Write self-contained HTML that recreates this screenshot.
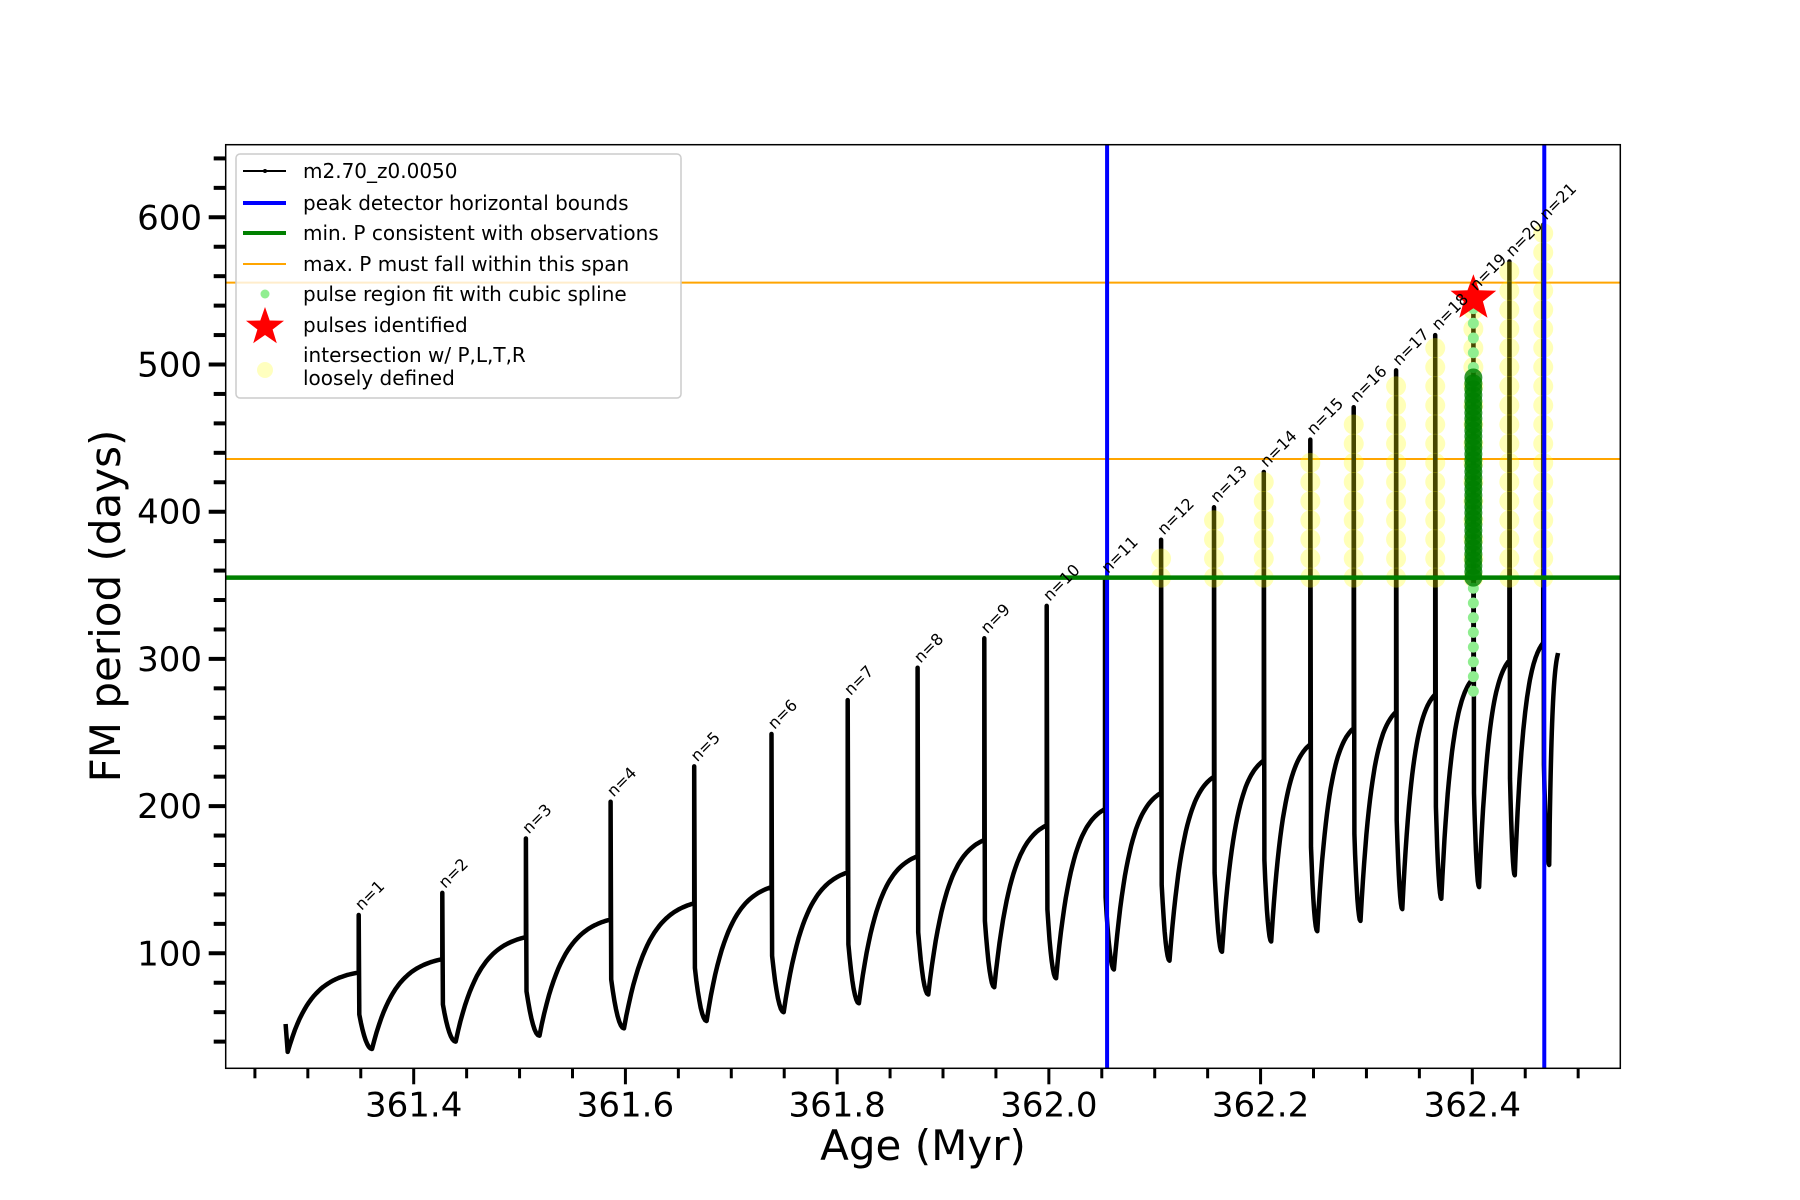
<!DOCTYPE html>
<html><head><meta charset="utf-8"><style>
html,body{margin:0;padding:0;background:#fff}
svg{display:block}
text{font-family:"DejaVu Sans","Liberation Sans",sans-serif}
</style></head><body>
<svg id="chart" width="1800" height="1200" viewBox="0 0 1800 1200" xmlns="http://www.w3.org/2000/svg">
<rect width="1800" height="1200" fill="#fff"/>
<g id="plot"></g>
<g id="axes"></g>
<text x="923" y="1160" font-size="42" text-anchor="middle">Age (Myr)</text>
<text x="0" y="0" font-size="42" text-anchor="middle" transform="translate(120,606) rotate(-90)">FM period (days)</text>
<g id="legend">
<rect x="236" y="154" width="445" height="244" rx="4" fill="#fff" fill-opacity="0.8" stroke="#ccc" stroke-width="1.5"/>
<g><line x1="243" y1="171" x2="286" y2="171" stroke="#000" stroke-width="2"/><circle cx="265" cy="171" r="2" fill="#000"/><text x="303" y="178" font-size="20">m2.70_z0.0050</text></g>
<g><line x1="243" y1="203" x2="286" y2="203" stroke="#0000ff" stroke-width="4"/><text x="303" y="210" font-size="20">peak detector horizontal bounds</text></g>
<g><line x1="243" y1="233" x2="286" y2="233" stroke="#008000" stroke-width="4"/><text x="303" y="240" font-size="20">min. P consistent with observations</text></g>
<g><line x1="243" y1="264" x2="286" y2="264" stroke="#ffa500" stroke-width="2"/><text x="303" y="271" font-size="20">max. P must fall within this span</text></g>
<g><circle cx="265" cy="294" r="4.5" fill="#90ee90"/><text x="303" y="301" font-size="20">pulse region fit with cubic spline</text></g>
<g><polygon id="legstar" fill="#ff0000"/><text x="303" y="332" font-size="20">pulses identified</text></g>
<g><circle cx="265" cy="370" r="8" fill="#ffff00" fill-opacity="0.25"/><text x="303" y="362" font-size="20">intersection w/ P,L,T,R</text><text x="303" y="385" font-size="20">loosely defined</text></g>
</g>
</svg>
<script>
const spikeAge=[361.348,361.427,361.506,361.586,361.665,361.738,361.810,361.876,361.939,361.998,362.053,362.106,362.156,362.203,362.247,362.288,362.328,362.365,362.401,362.435,362.467];
const spikePeak=[126,141,178,203,227,249,272,294,314,336,355,381,403,427,449,471,496,520,547,570,595];
const plateauVals=[87,96,111,123,134,145,155,166,177,187,198,209,220,231,242,253,264,276,287,299,311];
const troughVals=[35,40,44,49,54,60,66,72,77,83,89,95,101,108,115,122,130,137,145,153,160];
const startAge=361.279, startVal=52, firstMin=33;
const endAge=362.481, endVal=304;
const boundAges=[362.055,362.468];
const minP=[355.2];
const maxPSpan=[435.8,555.6];
const starPoint=[362.401,545];
const xTicks=[361.4,361.6,361.8,362.0,362.2,362.4];
const xTickLabels=["361.4","361.6","361.8","362.0","362.2","362.4"];
const yTicks=[100,200,300,400,500,600];
const yTickLabels=["100","200","300","400","500","600"];

const L=225.7,R=1620.3,T=144.7,B=1068.3;
function X(a){return 413.7+(a-361.4)*1058.6;}
function Y(v){return 953.3-(v-100)*1.472;}
const NS="http://www.w3.org/2000/svg";
function mk(tag,attrs,parent){const e=document.createElementNS(NS,tag);for(const k in attrs)e.setAttribute(k,attrs[k]);parent.appendChild(e);return e;}
const plot=document.getElementById('plot'), axes=document.getElementById('axes');

maxPSpan.forEach(v=>{const l=mk('line',{x1:L,x2:R,y1:Y(v),y2:Y(v),stroke:'#ffa500','stroke-width':2},plot);

});

let pts=[[startAge,startVal],[startAge+0.002,firstMin]];
function rise(t0,v0,t1,v1){const k=3;for(let i=1;i<=30;i++){const s=i/30;pts.push([t0+(t1-t0)*s, v0+(v1-v0)*(1-Math.exp(-k*s))/(1-Math.exp(-k))]);}}
rise(startAge+0.002,firstMin,spikeAge[0],plateauVals[0]);
for(let i=0;i<spikeAge.length;i++){
  const t=spikeAge[i];
  const nextT=i+1<spikeAge.length?spikeAge[i+1]:endAge;
  const nextV=i+1<plateauVals.length?plateauVals[i+1]:endVal;
  const tr=troughVals[i], pl=plateauVals[i];
  pts.push([t,spikePeak[i]]);
  const drop=tr+(pl-tr)*0.45;
  pts.push([t+0.0006,drop]);
  const dur=(nextT-t)*(i+1<spikeAge.length?0.16:0.4);
  for(let j=1;j<=8;j++){const s=j/8;pts.push([t+0.0006+(dur-0.0006)*s, drop+(tr-drop)*(1-(1-s)*(1-s))]);}
  rise(t+dur,tr,nextT,nextV);
}
const d=pts.map((p,i)=>(i?'L':'M')+X(p[0]).toFixed(1)+' '+Y(p[1]).toFixed(1)).join(' ');
const curve=mk('path',{d:d,fill:'none',stroke:'#000','stroke-width':4.5,'stroke-linejoin':'round'},plot);



for(let i=10;i<spikeAge.length;i++){
  for(let v=minP[0];v<=spikePeak[i]-4;v+=13){
    const c=mk('circle',{cx:X(spikeAge[i]),cy:Y(v),r:10,fill:'#ffff00','fill-opacity':0.28},plot);
    
    
  }
}
const si=18;
for(let v=278;v<=spikePeak[si]-4;v+=10){
  const c=mk('circle',{cx:X(spikeAge[si]),cy:Y(v),r:5.5,fill:'#90ee90'},plot);
  
  
}
for(let v=minP[0];v<=495;v+=4){
  const c=mk('circle',{cx:X(spikeAge[si]),cy:Y(v),r:9,fill:'#008000','fill-opacity':0.8},plot);
  
  
}

boundAges.forEach(a=>{const l=mk('line',{x1:X(a),x2:X(a),y1:T,y2:B,stroke:'#0000ff','stroke-width':4},plot);

});
minP.forEach(v=>{const l=mk('line',{x1:L,x2:R,y1:Y(v),y2:Y(v),stroke:'#008000','stroke-width':4.5},plot);

});

function starPts(cx,cy,ro,ri){let s=[];for(let k=0;k<10;k++){const a=-Math.PI/2+k*Math.PI/5;const r=k%2?ri:ro;s.push((cx+r*Math.cos(a)).toFixed(1)+','+(cy+r*Math.sin(a)).toFixed(1));}return s.join(' ');}
const st=mk('polygon',{points:starPts(X(starPoint[0]),Y(starPoint[1]),24,10),fill:'#ff0000'},plot);


document.getElementById('legstar').setAttribute('points',starPts(265,327,20,8));

spikeAge.forEach((a,i)=>{
  const x=X(a)+3, y=Y(spikePeak[i])-4;
  const t=mk('text',{x:x,y:y,'font-size':16,transform:`rotate(-45 ${x} ${y})`},plot);
  t.textContent='n='+(i+1);
  
  
});

const fr=mk('rect',{x:L,y:T,width:R-L,height:B-T,fill:'none',stroke:'#000','stroke-width':1.5},axes);


for(let a=361.25;a<=362.5001;a+=0.05){
  const major=xTicks.some(m=>Math.abs(m-a)<1e-6);
  const l=mk('line',{x1:X(a),x2:X(a),y1:B,y2:B+(major?16:10),stroke:'#000','stroke-width':3},axes);
  
  
}
xTicks.forEach((a,i)=>{const t=mk('text',{x:X(a),y:B+48,'font-size':34,'text-anchor':'middle'},axes);t.textContent=xTickLabels[i];

});
for(let v=40;v<=640;v+=20){
  const major=yTicks.indexOf(v)>=0;
  const l=mk('line',{x1:L,x2:L-(major?17:12),y1:Y(v),y2:Y(v),stroke:'#000','stroke-width':4},axes);
  
  
}
yTicks.forEach((v,i)=>{const t=mk('text',{x:202,y:Y(v)+12,'font-size':34,'text-anchor':'end'},axes);t.textContent=yTickLabels[i];

});
</script>
</body></html>
